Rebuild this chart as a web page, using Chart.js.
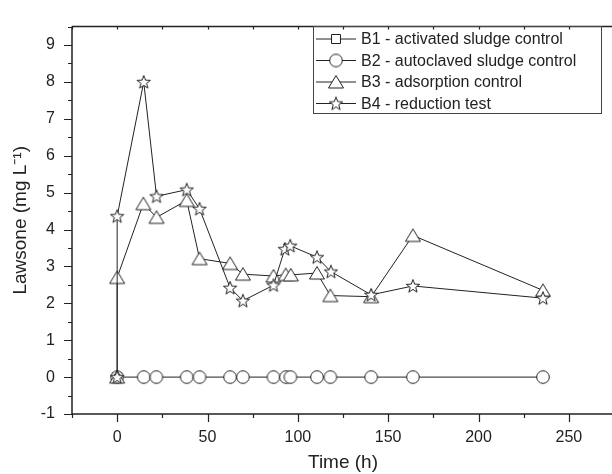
<!DOCTYPE html>
<html lang="en">
<head>
  <meta charset="utf-8">
  <title>Lawsone</title>
  <script src="https://cdn.jsdelivr.net/npm/chart.js@4.4.1/dist/chart.umd.min.js"></script>
  <style>
    body { margin: 0; overflow: hidden; background: #fff; }
  </style>
</head>
<body>
  <canvas id="myChart" width="624" height="474"></canvas>
  <script>
    // values
    var seriesNames = ['B1 - activated sludge control', 'B2 - autoclaved sludge control',
      'B3 - adsorption control', 'B4 - reduction test'];

    var b1Time = [0];
    var b1Vals = [0];

    var b2Time = [0, 14.7, 21.7, 38.5, 45.6, 62.5, 69.6, 86.5, 93.4, 95.9, 110.6, 118, 140.6, 163.7, 235.7];
    var b2Vals = [0, 0, 0, 0, 0, 0, 0, 0, 0, 0, 0, 0, 0, 0, 0];

    var b3Time = [0, 0, 14.5, 21.8, 38.5, 45.6, 62.5, 69.6, 86.5, 93.3, 96.1, 110.6, 118, 140.6, 163.7, 235.7];
    var b3Vals = [0, 2.7, 4.7, 4.33, 4.79, 3.21, 3.08, 2.79, 2.74, 2.78, 2.77, 2.82, 2.21, 2.18, 3.84, 2.35];

    var b4Time = [0, 0, 14.7, 21.8, 38.5, 45.6, 62.5, 69.6, 86.5, 92.8, 95.8, 110.6, 118.3, 140.6, 163.7, 235.7];
    var b4Vals = [0, 4.36, 8.0, 4.9, 5.08, 4.56, 2.42, 2.07, 2.49, 3.47, 3.56, 3.25, 2.86, 2.23, 2.47, 2.14];

    var xTicks = [0, 50, 100, 150, 200, 250];
    var yTicks = [-1, 0, 1, 2, 3, 4, 5, 6, 7, 8, 9];

    var ink = '#222';
    var fam = '"Liberation Sans", Arial, sans-serif';

    function makeMarker(kind) {
      var c = document.createElement('canvas');
      c.width = 20; c.height = 20;
      var g = c.getContext('2d');
      g.fillStyle = '#fff';
      g.strokeStyle = ink;
      g.lineWidth = 1;
      g.beginPath();
      if (kind === 'square') {
        g.rect(5.5, 5.5, 9, 9);
      } else if (kind === 'circle') {
        g.arc(10, 10, 6.3, 0, Math.PI * 2);
      } else if (kind === 'triangle') {
        g.moveTo(10, 3.5);
        g.lineTo(17.5, 16);
        g.lineTo(2.5, 16);
        g.closePath();
      } else {
        for (var i = 0; i < 10; i++) {
          var r = i % 2 === 0 ? 7 : 2.9;
          var a = -Math.PI / 2 + i * Math.PI / 5;
          var px = 10 + r * Math.cos(a), py = 10.5 + r * Math.sin(a);
          if (i === 0) g.moveTo(px, py); else g.lineTo(px, py);
        }
        g.closePath();
      }
      g.fill();
      g.stroke();
      return c;
    }

    var markers = [makeMarker('square'), makeMarker('circle'), makeMarker('triangle'), makeMarker('star')];

    function pts(t, v) {
      var out = [];
      for (var i = 0; i < t.length; i++) out.push({ x: t[i], y: v[i] });
      return out;
    }

    // axis lines, major + minor ticks, legend box
    var frame = {
      id: 'frame',
      afterDraw: function (chart) {
        var ctx = chart.ctx, a = chart.chartArea;
        var xs = chart.scales.x, ys = chart.scales.y;
        ctx.save();
        ctx.strokeStyle = ink;
        ctx.lineWidth = 1.5;
        ctx.beginPath();
        ctx.moveTo(a.left, a.top); ctx.lineTo(a.right + 10, a.top);
        ctx.moveTo(a.left, a.top); ctx.lineTo(a.left, a.bottom);
        ctx.lineTo(a.right + 10, a.bottom);
        ctx.stroke();
        ctx.lineWidth = 1.2;
        ctx.beginPath();
        for (var v = -1; v <= 9.5; v += 0.5) {
          var y = Math.round(ys.getPixelForValue(v)) + 0.5;
          var len = (v % 1 === 0) ? 8 : 4;
          ctx.moveTo(a.left - len, y); ctx.lineTo(a.left, y);
        }
        for (var t = -25; t <= 275; t += 25) {
          var x = Math.round(xs.getPixelForValue(t)) + 0.5;
          var l2 = (t % 50 === 0) ? 8 : 4;
          ctx.moveTo(x, a.bottom); ctx.lineTo(x, a.bottom + l2);
          ctx.moveTo(x, a.top); ctx.lineTo(x, a.top + 3);
        }
        ctx.stroke();

        var bx = 313.5, by = 26.5, bw = 288, bh = 87;
        ctx.lineWidth = 1;
        ctx.strokeStyle = '#444';
        ctx.strokeRect(bx, by, bw, bh);
        var rows = [39, 60.5, 82, 103.5];
        ctx.font = '16px ' + fam;
        ctx.textBaseline = 'middle';
        ctx.fillStyle = ink;
        for (var i = 0; i < rows.length; i++) {
          ctx.strokeStyle = ink;
          ctx.beginPath();
          ctx.moveTo(316, rows[i]); ctx.lineTo(356, rows[i]);
          ctx.stroke();
          ctx.drawImage(markers[i], 336 - 10, rows[i] - 10);
          ctx.fillText(seriesNames[i], 361, rows[i] + 1);
        }
        ctx.restore();
      }
    };

    function ds(i, t, v, order) {
      return {
        label: seriesNames[i],
        data: pts(t, v),
        borderColor: ink,
        borderWidth: 1,
        pointStyle: markers[i],
        pointRadius: 7,
        pointHoverRadius: 7,
        order: order
      };
    }

    var ctx = document.getElementById('myChart');
    var myChart = new Chart(ctx, {
      type: 'line',
      data: {
        datasets: [
          ds(0, b1Time, b1Vals, 3),
          ds(1, b2Time, b2Vals, 2),
          ds(2, b3Time, b3Vals, 1),
          ds(3, b4Time, b4Vals, 0)
        ]
      },
      plugins: [frame],
      options: {
        responsive: false,
        animation: false,
        clip: false,
        layout: { padding: { top: 14, right: 10, left: 0, bottom: 0 } },
        plugins: { legend: { display: false }, tooltip: { enabled: false } },
        scales: {
          x: {
            type: 'linear',
            min: -25,
            max: 275,
            afterFit: function (s) { s.height = 60; },
            afterBuildTicks: function (s) { s.ticks = xTicks.map(function (v) { return { value: v }; }); },
            grid: { display: true, drawOnChartArea: false, drawTicks: false },
            border: { display: false },
            ticks: { padding: 14, color: ink, font: { size: 16, family: fam } },
            title: {
              display: true, text: 'Time (h)', color: ink,
              padding: { top: 0, bottom: 0 },
              font: { size: 19, family: fam }
            }
          },
          y: {
            min: -1,
            max: 9.5,
            afterFit: function (s) { s.width = 72; },
            afterBuildTicks: function (s) { s.ticks = yTicks.map(function (v) { return { value: v }; }); },
            grid: { display: true, drawOnChartArea: false, drawTicks: false },
            border: { display: false },
            ticks: { padding: 17, color: ink, font: { size: 16, family: fam } },
            title: {
              display: true, text: 'Lawsone (mg L\u207B\u00B9)', color: ink,
              padding: { top: 9, bottom: 0 },
              font: { size: 19, family: fam }
            }
          }
        }
      }
    });
  </script>
</body>
</html>
